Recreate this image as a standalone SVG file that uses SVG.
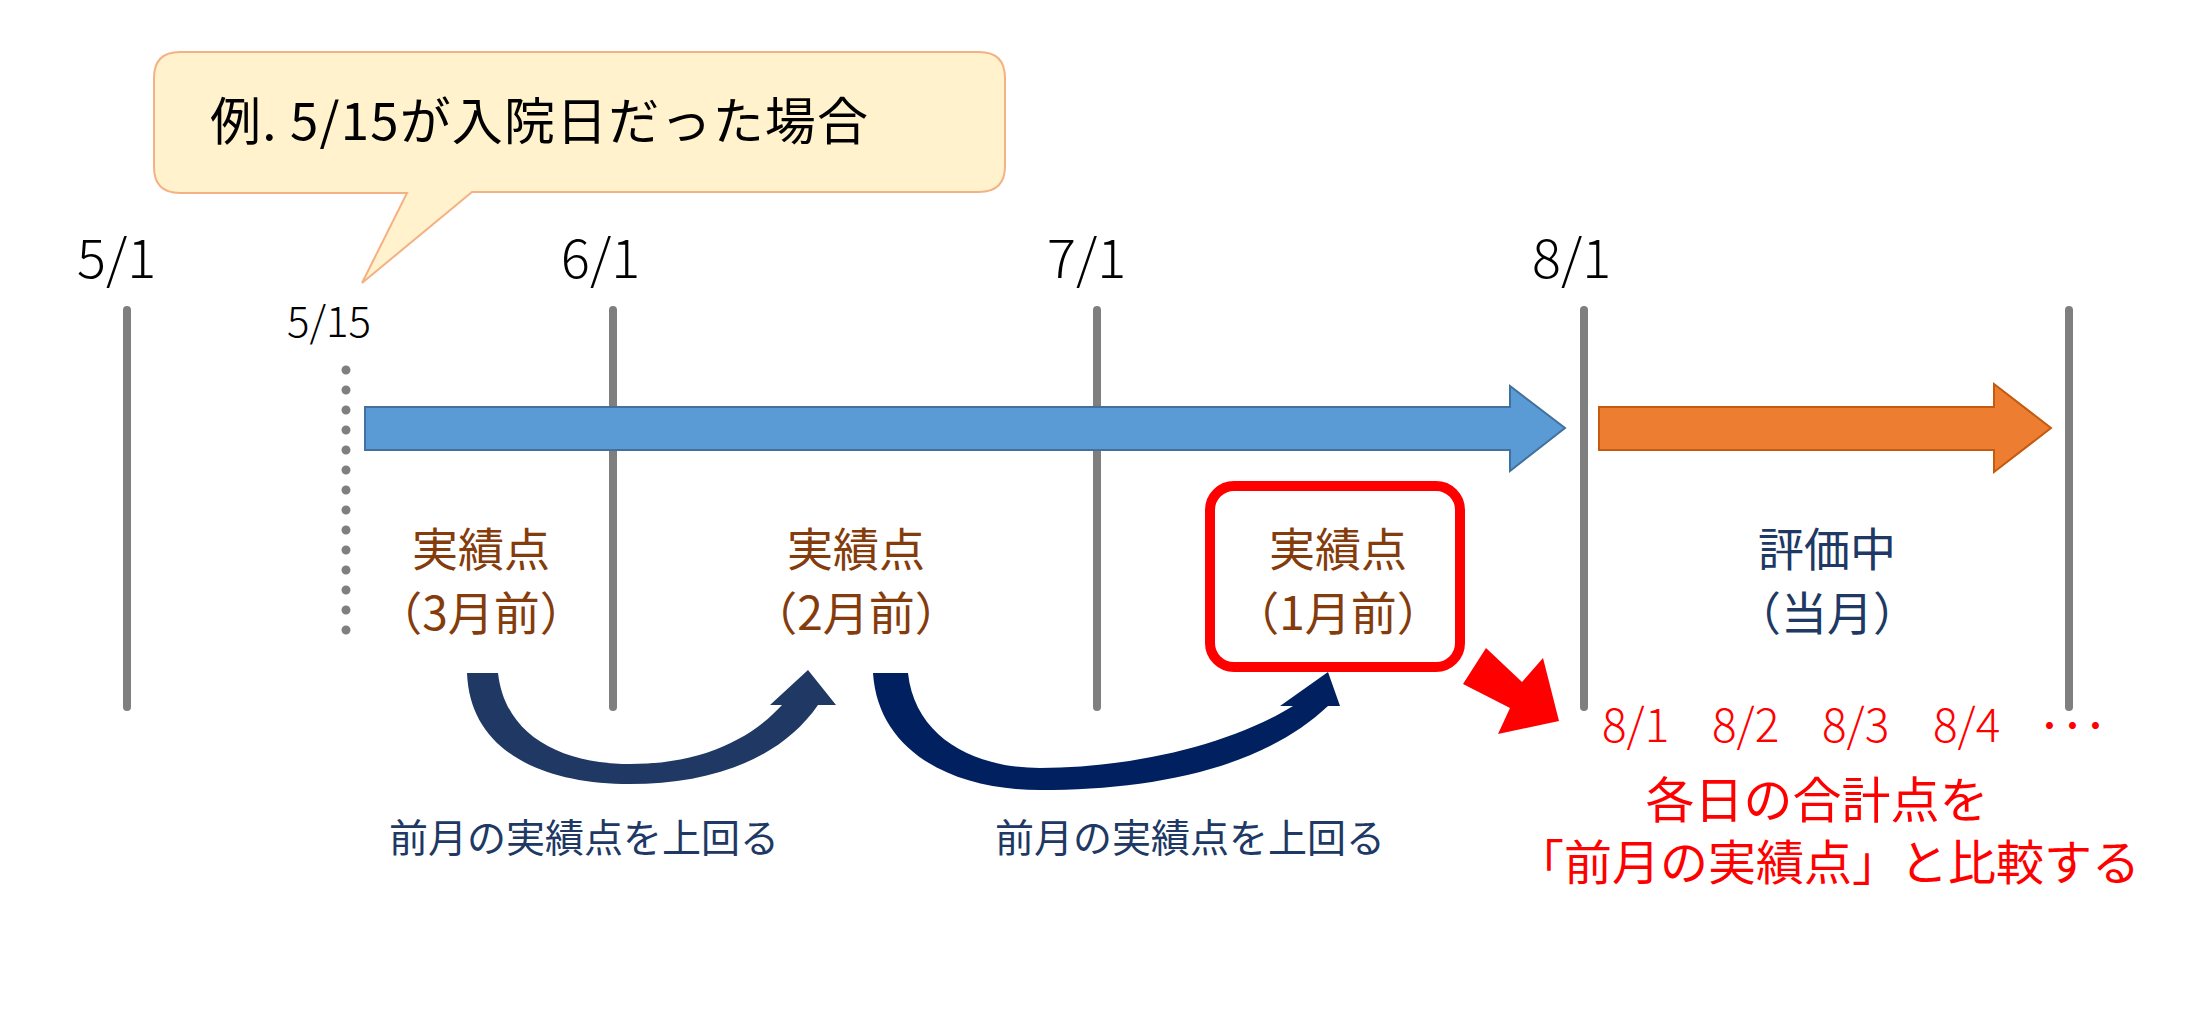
<svg xmlns="http://www.w3.org/2000/svg" width="2198" height="1033" viewBox="0 0 2198 1033">
<style>
text{font-family:"Noto Sans CJK JP","Liberation Sans",sans-serif;}
.date{font-size:54px;fill:#000;font-weight:300;}
.vl{stroke:#7f7f7f;stroke-width:8;stroke-linecap:round;}
.br{font-size:46px;fill:#843C0C;text-anchor:middle;}
.nv{font-size:46px;fill:#203864;text-anchor:middle;}
.lbl{font-size:39px;fill:#203864;text-anchor:middle;}
.red{fill:#ff0000;}
</style>
<rect width="2198" height="1033" fill="#fff"/>
<g id="callout">
<path d="M180,52 H979 Q1005,52 1005,78 V166 Q1005,192 979,192 H472 L362,283 L407,193 H180 Q154,193 154,167 V78 Q154,52 180,52 Z" fill="#FFF2CC" stroke="#F4B183" stroke-width="2"/>
<text x="210" y="140" font-size="51" fill="#000" textLength="658">例. 5/15が入院日だった場合</text>
</g>
<g id="timeline">
<text class="date" x="77" y="278">5/1</text>
<text class="date" x="561" y="278">6/1</text>
<text class="date" x="1047" y="278">7/1</text>
<text class="date" x="1532" y="278">8/1</text>
<text x="287" y="337" font-size="42" fill="#000" font-weight="300">5/15</text>
<line class="vl" x1="127" y1="310" x2="127" y2="707"/>
<line class="vl" x1="613" y1="310" x2="613" y2="707"/>
<line class="vl" x1="1097" y1="310" x2="1097" y2="707"/>
<line class="vl" x1="1584" y1="310" x2="1584" y2="707"/>
<line class="vl" x1="2069" y1="310" x2="2069" y2="707"/>
<line x1="346" y1="370" x2="346" y2="632" stroke="#7f7f7f" stroke-width="9" stroke-linecap="round" stroke-dasharray="0 20"/>
</g>
<g id="blue-arrow"><path d="M365,407 H1510 V386 L1565,428 L1510,471 V450 H365 Z" fill="#5B9BD5" stroke="#41719C" stroke-width="2"/></g>
<g id="orange-arrow"><path d="M1599,407 H1994 V384 L2051,428 L1994,472 V450 H1599 Z" fill="#ED7D31" stroke="#C55A11" stroke-width="2"/></g>
<g id="m3"><text class="br" x="481" y="566">実績点</text><text class="br" x="481" y="630">（3月前）</text></g>
<g id="m2"><text class="br" x="856" y="566">実績点</text><text class="br" x="856" y="630">（2月前）</text></g>
<g id="m1"><rect x="1210" y="486" width="250" height="181" rx="24" fill="#fff" stroke="#ff0000" stroke-width="10"/><text class="br" x="1338" y="566">実績点</text><text class="br" x="1338" y="630">（1月前）</text></g>
<g id="cur"><text class="nv" x="1827" y="566">評価中</text><text class="nv" x="1827" y="630">（当月）</text></g>
<g id="connectors">
<path d="M467,673 L498,673 C505,735 560,764 630,764 C700,764 750,740 782,705 L770,705 L808,670 L836,705 L818,705 C780,760 710,784 630,784 C540,784 470,750 467,673 Z" fill="#203864"/>
<path d="M873,673 L908,673 C915,738 975,768 1040,768 C1130,768 1230,745 1293,706 L1280,706 L1328,672 L1340,706 L1328,706 C1260,770 1150,790 1040,790 C950,790 878,750 873,673 Z" fill="#002060"/>
<path class="red" d="M1486,648 L1522,682 L1543,658 L1559,721 L1498,734 L1510,708 L1463,684 Z"/>
</g>
<g id="labels">
<text class="lbl" x="584" y="852">前月の実績点を上回る</text>
<text class="lbl" x="1190" y="852">前月の実績点を上回る</text>
<g class="red" font-size="46" font-weight="300"><text x="1602" y="742">8/1</text><text x="1712" y="742">8/2</text><text x="1822" y="742">8/3</text><text x="1933" y="742">8/4</text><text x="2038" y="742">･･･</text></g>
<text class="red" x="1817" y="818" font-size="49" text-anchor="middle">各日の合計点を</text>
<text class="red" x="1828" y="880" font-size="48" text-anchor="middle">「前月の実績点」と比較する</text>
</g>
</svg>
